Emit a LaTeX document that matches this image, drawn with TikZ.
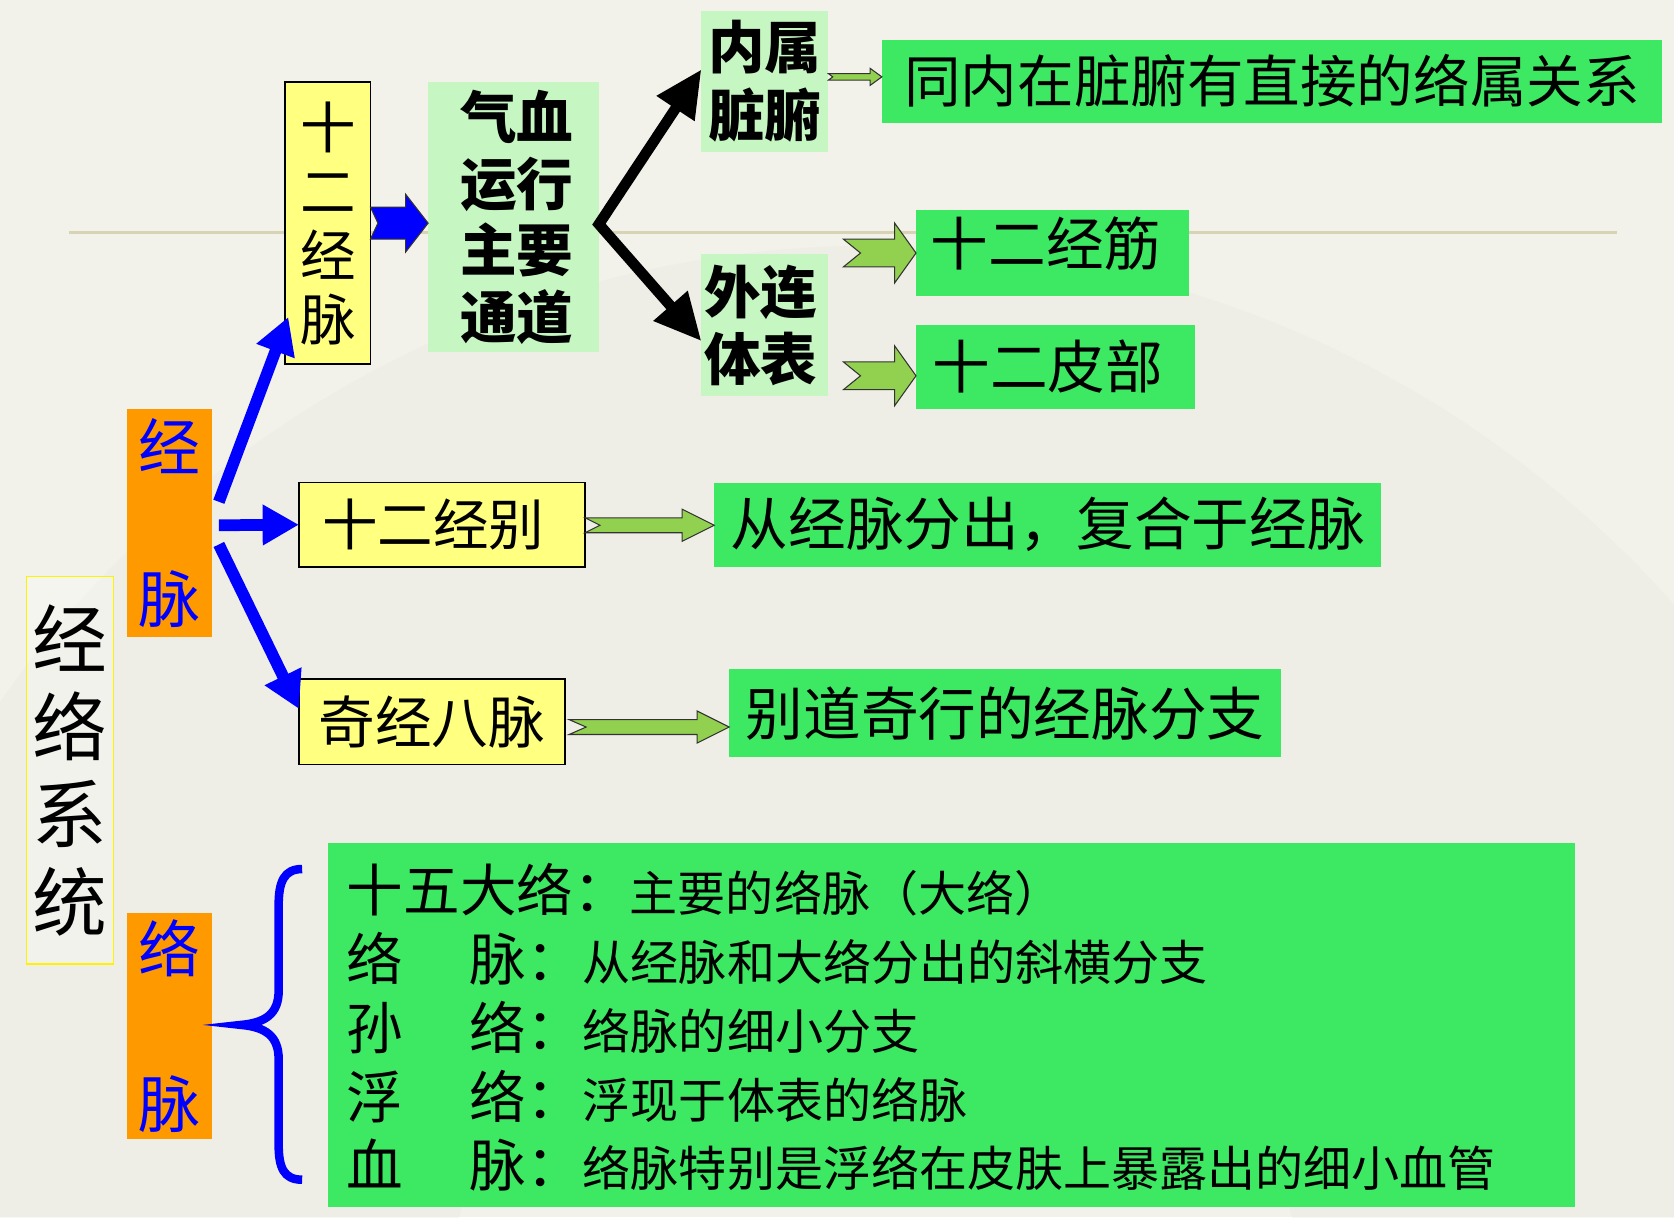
\documentclass[tikz,border=0pt]{standalone}
\usepackage{fontspec}
\setmainfont{Noto Sans CJK SC}
\usetikzlibrary{arrows.meta,calc}
\definecolor{bgc}{HTML}{F2F2EA}
\definecolor{fanc}{HTML}{E8E8E0}
\definecolor{linec}{HTML}{D9D3B6}
\definecolor{yel}{HTML}{FFFF80}
\definecolor{org}{HTML}{FF9900}
\definecolor{lgr}{HTML}{C6F6C2}
\definecolor{bgr}{HTML}{3DE862}
\definecolor{agr}{HTML}{92D050}
\definecolor{blu}{HTML}{0000FF}
\newcommand\fsz[2]{\fontsize{#1pt}{#2pt}\selectfont}
% style, start, end, shaft half, head half, head length, notch
\newcommand\blockarr[7]{%
 \draw[#1] let \p1=#2, \p2=#3 in
  (\x1,{\y1+#4pt}) -- ({\x2-#6pt},{\y1+#4pt}) -- ({\x2-#6pt},{\y1+#5pt}) -- (\x2,\y1)
  -- ({\x2-#6pt},{\y1-#5pt}) -- ({\x2-#6pt},{\y1-#4pt}) -- (\x1,{\y1-#4pt}) -- ({\x1+#7pt},\y1) -- cycle;}
\tikzset{
 base/.style={inner sep=0pt, outer sep=0pt, align=center},
 ybox/.style={base, fill=yel, draw=black, line width=1.5pt},
 obox/.style={base, fill=org, text=blu},
 lbox/.style={base, fill=lgr},
 gbox/.style={base, fill=bgr},
 txt/.style={inner sep=0pt, outer sep=0pt},
 barr/.style={draw=blu, line width=11pt, -{Triangle[length=34pt,width=36pt]}},
 karr/.style={draw=black, line width=10pt, line join=miter},
 garr/.style={fill=agr, draw=black!80, line width=1pt, line join=miter},
 bbarr/.style={fill=blu, draw=black!80, line width=1pt, line join=miter},
}
\begin{document}
\begin{tikzpicture}[x=1pt,y=-1pt]
\useasboundingbox (0,0) rectangle (1568,1140);
\fill[bgc] (0,0) rectangle (1568,1140);
\fill[fanc,opacity=.35,even odd rule] (820,1230) circle[radius=1000] (820,1230) circle[radius=400];
\draw[linec, line width=3pt] (65,218) -- (1515,218);

% left column
\node[base, draw=yellow, line width=1.2pt, fill=white, fill opacity=.25, text opacity=1, minimum width=81pt, minimum height=363pt, font=\fsz{70}{82}] (jlxt) at (65.5,721.5) {经\\络\\系\\统};
\node[obox, minimum width=80pt, minimum height=214pt, font=\fsz{58}{143}] (jmo) at (159,490) {经\\脉};
\node[obox, minimum width=80pt, minimum height=212pt, font=\fsz{58}{145}] (lmo) at (159,961) {络\\脉};

% twelve meridians
\node[ybox, minimum width=80pt, minimum height=264pt, font=\fsz{52}{60}] (sejm) at (307,209) {十\\二\\经\\脉};
\node[lbox, minimum width=160pt, minimum height=253pt, font=\fsz{53}{62.5}\bfseries] (qx) at (481,203.5) {\hspace*{6pt}气血\\\hspace*{6pt}运行\\\hspace*{6pt}主要\\\hspace*{6pt}通道};
\node[lbox, minimum width=119pt, minimum height=132pt, font=\fsz{53}{63}\bfseries] (ns) at (716.5,76) {内属\\脏腑};
\node[lbox, minimum width=119pt, minimum height=133pt, font=\fsz{53}{63}\bfseries] (wl) at (716.5,304.5) {外连\hspace*{8pt}\\体表\hspace*{8pt}};
\node[gbox, minimum width=731pt, minimum height=78pt, font=\fsz{53}{60}] (tn) at (1191.5,76) {同内在脏腑有直接的络属关系};
\node[gbox, minimum width=256pt, minimum height=80pt] (jj) at (986,237) {};
\node[txt, font=\fsz{54}{60}] (jjt) at (980,228) {十二经筋};
\node[gbox, minimum width=261pt, minimum height=79pt, font=\fsz{54}{60}] (pb) at (988.5,343.5) {十二皮部\hspace*{14pt}};

% jingbie and qijing
\node[ybox, minimum width=268pt, minimum height=79pt, font=\fsz{52}{60}] (jb) at (414,491.5) {十二经别\hspace*{16pt}};
\node[gbox, minimum width=625pt, minimum height=79pt, font=\fsz{54}{60}] (jbd) at (981.5,491.5) {从经脉分出，复合于经脉};
\node[ybox, minimum width=249pt, minimum height=80pt, font=\fsz{53}{60}] (qj) at (404.5,676) {奇经八脉};
\node[gbox, minimum width=517pt, minimum height=82pt, font=\fsz{54}{60}] (qjd) at (941.5,668) {别道奇行的经脉分支};

% luo mai box
\node[gbox, minimum width=1168pt, minimum height=341pt] (lm) at (891,960.5) {};
\node[txt, anchor=base west] (l1) at (325,854) {\fsz{53}{60}十五大络：\fsz{45}{50}主要的络脉（大络）};
\node[txt, anchor=base west] (l2) at (325,918) {\fsz{53}{60}\makebox[115pt][l]{络}脉：\fsz{45}{50}从经脉和大络分出的斜横分支};
\node[txt, anchor=base west] (l3) at (325,983) {\fsz{53}{60}\makebox[115pt][l]{孙}络：\fsz{45}{50}络脉的细小分支};
\node[txt, anchor=base west] (l4) at (325,1048) {\fsz{53}{60}\makebox[115pt][l]{浮}络：\fsz{45}{50}浮现于体表的络脉};
\node[txt, anchor=base west] (l5) at (325,1111) {\fsz{53}{60}\makebox[115pt][l]{血}脉：\fsz{45}{50}络脉特别是浮络在皮肤上暴露出的细小血管};

% brace
\draw[blu, line width=8pt, line cap=butt]
  (283,814) .. controls (266,814) and (261,826) .. (261,848)
  -- (261,928) .. controls (261,950) and (248,958) .. (226,960)
  .. controls (248,962) and (261,970) .. (261,992)
  -- (261,1072) .. controls (261,1094) and (266,1105) .. (283,1105);

% blue arrows from jingmai
\draw[barr] ($(jmo.east)+(6,-20)$) -- ($(sejm.south west)+(3,-44)$);
\draw[barr] ($(jmo.east)+(6,2)$) -- (jb.west);
\draw[barr] ($(jmo.east)+(6,20)$) -- ($(qj.north west)+(0,28)$);

% blue block arrow
\blockarr{bbarr}{(sejm.east)}{(qx.west)}{15}{27}{21}{7}

% black arrows
\coordinate (jn) at ($(qx.east)+(0,6.5)$);
\draw[karr, {Triangle[length=44pt,width=40pt]}-{Triangle[length=44pt,width=40pt]}]
  ($(ns.west)+(0,-11)$) -- (jn) -- ($(wl.west)+(0,15)$);

% green arrows
\coordinate (a1) at (776,72);
\blockarr{garr}{(a1)}{(tn.west)}{3}{8}{11}{4}
\coordinate (a2) at (790,237);
\blockarr{garr}{(a2)}{(jj.west)}{13}{28}{20}{16}
\coordinate (a3) at (790,352);
\blockarr{garr}{(a3)}{(pb.west)}{13}{28}{20}{16}
\coordinate (a4) at (548,492);
\blockarr{garr}{(a4)}{(jbd.west)}{7}{15}{30}{14}
\coordinate (a5) at (533,681);
\blockarr{garr}{(a5)}{(qjd.west)}{7}{15}{30}{16}
\end{tikzpicture}
\end{document}
